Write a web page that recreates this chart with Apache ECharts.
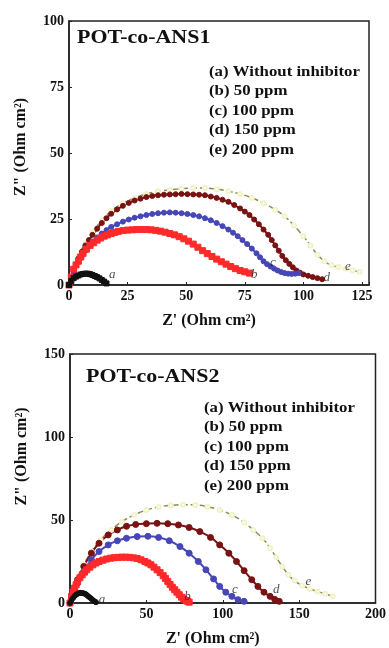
<!DOCTYPE html>
<html>
<head>
<meta charset="utf-8">
<script src="https://cdn.jsdelivr.net/npm/echarts@6/dist/echarts.min.js"></script>
<style>
  html, body { margin: 0; padding: 0; background: #fff; }
  #main { width: 389px; height: 648px; }
</style>
</head>
<body>
<div id="main"></div>
<script>
var chartDom = document.getElementById('main');
var myChart = echarts.init(chartDom);
var option;

// ---- data, panel 1 (POT-co-ANS1) ----
var p1a = [[0,0],[1,1.5],[2,2.6],[3,3.2],[4,3.6],[5,4],[6,4.2],[7,4.3],[8,4.3],[9,4.1],[10,3.8],[11,3.4],[12,3],
           [13,2.5],[14,1.9],[15,1.3],[16,0.6]];
var p1b = [[0,0],[1,3],[2,6],[3,7.6],[4,9],[5,10.6],[6,12],[7.5,13.6],[9,15],[10.5,16],[12,17],[13.5,17.8],[15,18.5],
           [16.5,19],[18,19.5],[19.5,19.9],[21,20.3],[23,20.6],[25,20.8],[27,20.9],[29,21],[31,21],[33,21],[35,20.9],
           [37,20.7],[39,20.4],[41,20],[43,19.5],[45,19],[47,18.3],[49,17.5],[51,16.6],[53,15.5],[55,14.3],[57,13],
           [59,11.9],[61,10.8],[63,9.8],[65,8.8],[67,7.9],[69,7],[71,6.2],[73,5.5],[75,5],[77,4.5]];
var p1c = [[0,0],[2,5],[4,9],[5.5,11],[7,13],[8.5,15],[10,16.5],[12,18],[14,19.5],[16,20.8],[18,22],[20.5,23],[23,24],
           [25.5,24.8],[28,25.5],[30.5,26],[33,26.5],[35.5,26.9],[38,27.2],[40.5,27.4],[43,27.5],[45.5,27.4],[48,27.2],
           [50.5,26.9],[53,26.5],[55.5,26],[58,25.3],[60.5,24.5],[63,23.5],[65.5,22.3],[68,21],[70,19.8],[72,18.5],
           [74,17],[76,15.5],[78,13.8],[80,12],[81.5,10.5],[83,9],[84.5,7.9],[86,7],[87.5,6.2],[89,5.5],[90.5,4.9],
           [92,4.5],[93.5,4.3],[95,4.2],[96.5,4.3],[98,4.5]];
var p1d = [[0,0],[2,6],[4,10],[5.5,12.6],[7,15],[8.5,17],[10,19],[12,21.3],[14,23.5],[16,25.3],[18,27],[20.5,28.6],
           [23,30],[25.5,31.1],[28,32],[30.5,32.7],[33,33.3],[35.5,33.7],[38,34],[40.5,34.2],[43,34.3],[45.5,34.4],
           [48,34.5],[50.5,34.4],[53,34.3],[55.5,34.2],[58,34],[60.5,33.5],[63,33],[65.5,32.3],[68,31.5],[70.5,30.3],
           [73,29],[75,27.8],[77,26.5],[79,24.8],[81,23],[83,21],[85,19],[86.5,17],[88,15],[89.5,13],[91,11],
           [92.5,9.4],[94,8],[95.5,6.7],[97,5.5],[98.5,4.7],[100,4],[102,3.5],[104,3],[106,2.6],[108,2.2]];
var p1e = [[0,0],[2,6],[4,11],[7,16],[10,20],[14,24.5],[18,28],[23,31],[28,33],[33,34.5],[38,35.5],[43,36],[48,36.5],
           [53,36.7],[58,36.7],[63,36.3],[68,35.5],[73,34.5],[78,33],[83,31],[88,28.5],[92,26],[96,22.5],[100,18.5],
           [103,15],[106,11.5],[109,9],[112,7.5],[115,6.8],[118,6.2],[121,5.5],[124,5]];
var p1Tags = [[18.5,4,'a'],[79,4,'b'],[87,8.5,'c'],[110,3,'d'],[119,7,'e']];

// ---- data, panel 2 (POT-co-ANS2) ----
var p2a = [[0,0],[1,1.8],[2,3],[3,4.2],[4,5],[5,5.6],[6,6],[7,6.1],[8,6],[9,5.8],[10,5.5],[11,4.8],[12,4],[13,3.3],
           [14,2.5],[15,1.7],[16,1],[17,0.5]];
var p2b = [[0,0],[1,4],[2,6.6],[3,9],[4,11],[5,13],[6.5,15.2],[8,17],[9.5,18.6],[11,20],[13,21.6],[15,23],[17,24.1],
           [19,25],[21.5,25.8],[24,26.5],[26.5,27],[29,27.3],[31.5,27.5],[34,27.6],[36.5,27.6],[39,27.5],[41.5,27.2],
           [44,26.8],[46.5,26],[49,25],[51,24.1],[53,23],[55,21.6],[57,20],[59,18.3],[61,16.5],[62.5,14.8],[64,13],
           [65.5,11.2],[67,9.5],[68.5,8],[70,6.5],[71.5,5],[73,3.5],[74.5,2.4],[76,1.5],[77,1],[78,0.5]];
var p2c = [[0,0],[2,6],[5,12],[9,19],[14,26],[19,31],[25,35],[31,37.5],[37,39],[44,40],[51,40.2],[58,39.5],[65,37.5],
           [72,34],[78,30],[84,25],[89,20],[94,14.5],[98,10],[102,6.5],[106,4],[110,2],[114,1]];
var p2d = [[0,0],[2,7],[5,14],[9,22],[14,30],[19,36],[25,41],[31,44],[37,46.2],[43,47.3],[50,47.8],[57,48],[64,47.8],
           [71,47],[78,45.5],[85,43],[92,39.5],[98,35],[104,30],[109,25],[114,19.5],[119,14],[123,10],[127,6.5],
           [131,4],[134,2.2],[137,1]];
var p2e = [[0,0],[2,7],[5,15],[9,23],[14,31],[20,38],[27,44],[34,49],[42,53],[50,56],[58,57.8],[66,58.8],[74,59.2],
           [82,59],[90,58],[98,56],[106,53],[114,48.5],[120,44],[126,39],[131,33],[135,27.5],[139,22],[143,17],
           [147,13.5],[152,10.5],[157,8.5],[162,7],[167,5.5],[172,4]];
var p2Tags = [[21,2,'a'],[77,4,'b'],[108,8,'c'],[135,8,'d'],[156,13,'e']];

var legendLines = ['(a) Without inhibitor', '(b) 50 ppm', '(c) 100 ppm', '(d) 150 ppm', '(e) 200 ppm'];

var serif = 'Liberation Serif';

function curve(data, idx, color, symbol, size, dashed, fill) {
    return {
        type: 'line',
        data: data,
        xAxisIndex: idx,
        yAxisIndex: idx,
        smooth: true,
        symbol: symbol,
        symbolSize: size,
        showAllSymbol: true,
        lineStyle: { color: color, width: dashed ? 1.5 : 2, type: dashed ? 'dashed' : 'solid' },
        itemStyle: { color: fill || color, borderColor: color, borderWidth: 1 },
        z: 3
    };
}

function tags(data, idx) {
    return {
        type: 'scatter',
        xAxisIndex: idx,
        yAxisIndex: idx,
        symbolSize: 0,
        data: data.map(function (d) { return { value: [d[0], d[1]], name: d[2] }; }),
        label: {
            show: true,
            position: 'inside',
            formatter: '{b}',
            color: '#222',
            fontFamily: serif,
            fontStyle: 'italic',
            fontSize: 13
        },
        z: 5
    };
}

function xAxisOf(idx, max, interval) {
    return {
        type: 'value', gridIndex: idx, min: 0, max: max, interval: interval,
        name: "Z' (Ohm cm\u00B2)", nameLocation: 'middle', nameGap: 28,
        nameTextStyle: { fontFamily: serif, fontWeight: 'bold', fontSize: 16, color: '#111', padding: [0, 20, 0, 0] },
        axisLine: { lineStyle: { color: '#222', width: 1.5 } },
        axisTick: { inside: true, length: 3, lineStyle: { color: '#222' } },
        splitLine: { show: false },
        axisLabel: {
            fontFamily: serif, fontWeight: 'bold', fontSize: 14, color: '#111', margin: 4,
            formatter: function (v) { return v % interval === 0 ? v : ''; }
        }
    };
}

function yAxisOf(idx, max, interval, pad) {
    return {
        type: 'value', gridIndex: idx, min: 0, max: max, interval: interval,
        name: 'Z" (Ohm cm\u00B2)', nameLocation: 'middle', nameGap: 40,
        nameTextStyle: { fontFamily: serif, fontWeight: 'bold', fontSize: 16, color: '#111', padding: [0, 0, 0, pad] },
        axisLine: { lineStyle: { color: '#222', width: 1.5 } },
        axisTick: { inside: true, length: 3, lineStyle: { color: '#222' } },
        splitLine: { show: false },
        axisLabel: { fontFamily: serif, fontWeight: 'bold', fontSize: 14, color: '#111', margin: 5 }
    };
}

function textBlock(left, top, lines) {
    return lines.map(function (t, i) {
        return {
            type: 'text', x: left, y: top + i * 19.5, scaleX: 1.2,
            style: { text: t, font: 'bold 14px "Liberation Serif"', fill: '#111', textVerticalAlign: 'middle' }
        };
    });
}

option = {
    animation: false,
    backgroundColor: '#fff',
    grid: [
        { left: 69, top: 21, right: 20, height: 264, show: true, borderColor: '#222', borderWidth: 1.5 },
        { left: 70, top: 354, right: 11, height: 250, show: true, borderColor: '#222', borderWidth: 1.5 }
    ],
    xAxis: [xAxisOf(0, 128, 25), xAxisOf(1, 200, 50)],
    yAxis: [yAxisOf(0, 100, 25, 12), yAxisOf(1, 150, 50, 44)],
    graphic: [
        { type: 'text', x: 77, y: 38, scaleX: 1.22,
          style: { text: 'POT-co-ANS1', font: 'bold 18px "Liberation Serif"', fill: '#111', textVerticalAlign: 'middle' } },
        { type: 'text', x: 86, y: 377, scaleX: 1.22,
          style: { text: 'POT-co-ANS2', font: 'bold 18px "Liberation Serif"', fill: '#111', textVerticalAlign: 'middle' } }
    ].concat(textBlock(209, 72, legendLines), textBlock(204, 408, legendLines)),
    series: [
        curve(p1e, 0, '#8a8a55', 'emptyCircle', 4, true, '#f2f2c8'),
        curve(p1d, 0, '#7a1212', 'circle', 5, false),
        curve(p1c, 0, '#4646b8', 'circle', 5, false),
        curve(p1b, 0, '#ff2a2a', 'rect', 6, false),
        curve(p1a, 0, '#111111', 'rect', 5, false),
        tags(p1Tags, 0),
        curve(p2e, 1, '#8a8a55', 'emptyCircle', 4, true, '#f2f2c8'),
        curve(p2d, 1, '#7a1212', 'circle', 6, false),
        curve(p2c, 1, '#4646b8', 'circle', 6, false),
        curve(p2b, 1, '#ff2a2a', 'rect', 6, false),
        curve(p2a, 1, '#111111', 'circle', 5, false),
        tags(p2Tags, 1)
    ]
};

option && myChart.setOption(option);
</script>
</body>
</html>
